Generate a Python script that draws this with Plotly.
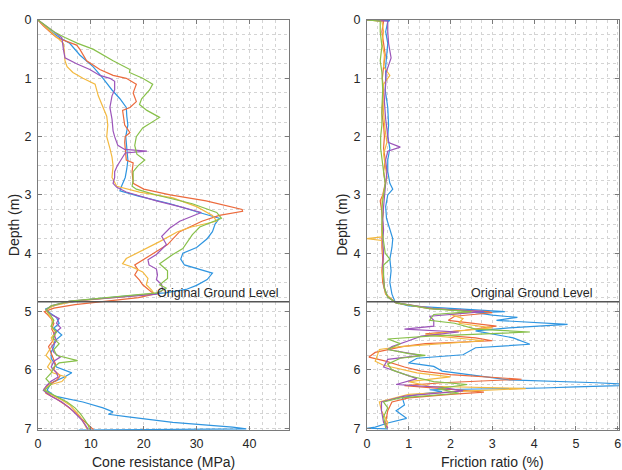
import plotly.graph_objects as go

# ---------------- data ----------------
series_names = ["CPT 1", "CPT 2", "CPT 3", "CPT 4", "CPT 5"]
series_colors = ["#2f95e0", "#ec6a3c", "#f3b940", "#9c55ba", "#88c04a"]

ground_level_depth = 4.83
ground_level_label = "Original Ground Level"

# Cone resistance (MPa) vs depth (m)
qc_depth_blue = [0, 0.1, 0.2, 0.31, 0.4, 0.6, 0.8, 1.0, 1.2, 1.35, 1.5, 1.65, 1.8, 2.0, 2.2, 2.4, 2.55, 2.7, 2.85, 2.93,
                 3.02, 3.15, 3.3, 3.4, 3.5, 3.63, 3.75, 3.9, 4.0, 4.1, 4.2, 4.28, 4.34, 4.45, 4.55, 4.62, 4.68, 4.74,
                 4.8, 4.87, 4.95, 5.02, 5.1, 5.2, 5.28, 5.4, 5.5, 5.6, 5.7, 5.8, 5.88, 5.95, 6.05, 6.12, 6.2, 6.27,
                 6.35, 6.45, 6.55, 6.65, 6.72, 6.76, 6.8, 6.9, 6.98, 7.01, 7.03]
qc_blue = [0, 1.2, 2.5, 4.2, 6.0, 7.9, 10.4, 12.3, 14.0, 15.5, 16.7, 16.8, 17.0, 16.6, 16.8, 17.0, 16.8, 16.5, 15.8, 15.5,
           19.0, 25.0, 30.5, 34.3, 33.5, 33.0, 32.0, 30.0, 27.4, 27.0, 27.7, 30.5, 33.0, 32.0, 30.0, 28.0, 24.0, 16.0,
           9.0, 4.0, 1.5, 2.2, 3.5, 4.0, 3.0, 4.5, 3.2, 3.0, 2.5, 2.5, 3.0, 3.5, 6.4, 5.0, 3.0, 2.2,
           1.7, 3.2, 8.5, 12.3, 14.2, 13.3, 16.7, 25.5, 36.8, 39.4, 7.7]

qc_depth_orange = [0, 0.1, 0.2, 0.3, 0.43, 0.5, 0.7, 0.85, 0.95, 1.0, 1.1, 1.25, 1.4, 1.5, 1.55, 1.7, 1.8, 1.93, 2.0,
                   2.1, 2.25, 2.4, 2.45, 2.6, 2.8, 2.9, 3.0, 3.1, 3.25, 3.28, 3.35, 3.45, 3.63, 3.75, 3.85, 3.97,
                   4.08, 4.15, 4.2, 4.28, 4.37, 4.46, 4.54, 4.63, 4.7, 4.76, 4.82, 4.88, 4.94, 5.0, 5.05, 5.12, 5.2,
                   5.3, 5.4, 5.5, 5.6, 5.7, 5.8, 5.9, 6.0, 6.1, 6.18, 6.25, 6.33, 6.4, 6.5, 6.6, 6.7, 6.8, 6.9,
                   7.0, 7.02]
qc_orange = [0, 1.0, 2.2, 3.5, 7.3, 7.9, 9.2, 11.7, 14.2, 16.7, 18.6, 18.0, 18.6, 17.4, 16.0, 16.2, 16.4, 17.4, 16.5,
             16.4, 16.6, 16.7, 18.0, 17.8, 18.0, 20.0, 25.0, 31.8, 38.6, 38.7, 34.3, 31.0, 26.8, 25.5, 24.5, 22.4,
             20.5, 19.2, 18.3, 18.9, 18.3, 19.2, 19.8, 21.0, 22.0, 19.0, 13.0, 7.0, 3.0, 1.2, 1.8, 2.5, 3.0,
             2.6, 3.2, 2.8, 2.0, 2.4, 2.8, 3.3, 3.0, 4.2, 3.5, 2.0, 1.2, 1.5, 3.5, 5.2, 6.6, 7.8, 8.8,
             10.2, 10.5]

qc_depth_yellow = [0, 0.1, 0.2, 0.3, 0.4, 0.55, 0.7, 0.8, 0.9, 1.0, 1.1, 1.3, 1.5, 1.65, 1.8, 2.0, 2.2, 2.35, 2.5, 2.7,
                   2.85, 2.95, 3.05, 3.2, 3.35, 3.45, 3.55, 3.63, 3.8, 3.97, 4.09, 4.18, 4.23, 4.32, 4.43, 4.54,
                   4.63, 4.7, 4.76, 4.82, 4.9, 4.97, 5.05, 5.15, 5.25, 5.35, 5.45, 5.55, 5.65, 5.75, 5.85, 5.95,
                   6.05, 6.12, 6.2, 6.25, 6.32, 6.4, 6.5, 6.6, 6.7, 6.8, 6.9, 7.0, 7.02]
qc_yellow = [0, 1.2, 2.5, 3.5, 4.8, 5.0, 5.1, 5.5, 6.6, 8.5, 10.8, 11.4, 12.3, 13.0, 13.2, 13.0, 13.6, 14.0, 14.2, 14.0,
             14.9, 19.2, 25.5, 30.0, 33.0, 33.8, 29.0, 26.4, 23.0, 19.2, 16.7, 16.0, 17.7, 19.8, 20.8, 20.5,
             21.5, 22.0, 15.0, 7.0, 3.0, 1.5, 2.0, 2.8, 2.5, 3.3, 2.5, 3.0, 2.2, 1.5, 2.5, 1.8,
             2.8, 5.3, 4.5, 2.5, 1.2, 2.0, 4.2, 6.0, 7.0, 8.0, 8.6, 9.2, 9.5]

qc_depth_purple = [0, 0.1, 0.2, 0.3, 0.5, 0.65, 0.75, 0.85, 0.95, 1.0, 1.05, 1.2, 1.3, 1.5, 1.7, 1.9, 2.0, 2.15, 2.22,
                   2.25, 2.28, 2.35, 2.5, 2.6, 2.7, 2.8, 2.87, 2.95, 3.1, 3.2, 3.3, 3.45, 3.57, 3.71, 3.85, 4.02,
                   4.11, 4.2, 4.27, 4.37, 4.45, 4.54, 4.63, 4.7, 4.76, 4.82, 4.9, 4.97, 5.05, 5.12, 5.2, 5.28, 5.38,
                   5.5, 5.6, 5.7, 5.78, 5.85, 5.95, 6.05, 6.12, 6.2, 6.28, 6.35, 6.45, 6.55, 6.65, 6.75, 6.85,
                   6.95, 7.02]
qc_purple = [0, 1.5, 3.0, 4.5, 4.8, 5.1, 7.3, 9.8, 11.7, 13.6, 14.5, 14.5, 14.0, 13.6, 14.0, 14.2, 14.5, 15.1, 16.4,
             20.6, 16.5, 16.0, 15.0, 14.5, 14.5, 14.2, 14.9, 16.7, 22.4, 26.8, 30.9, 26.8, 24.9, 23.4, 24.3, 22.4,
             20.8, 21.0, 22.4, 22.6, 22.4, 23.4, 23.6, 22.5, 14.0, 6.0, 2.5, 1.5, 2.5, 4.0, 3.5, 4.3, 3.0,
             3.5, 2.6, 3.0, 4.2, 3.0, 2.5, 3.5, 3.8, 2.4, 1.5, 1.0, 2.5, 4.5, 6.0, 7.2, 8.2,
             9.0, 9.5]

qc_depth_green = [0, 0.1, 0.2, 0.3, 0.4, 0.5, 0.7, 0.85, 0.9, 1.0, 1.1, 1.2, 1.35, 1.45, 1.55, 1.67, 1.75, 1.85, 2.0,
                  2.15, 2.3, 2.4, 2.5, 2.6, 2.75, 2.85, 2.9, 3.0, 3.15, 3.3, 3.4, 3.55, 3.68, 3.8, 3.92, 4.02, 4.18,
                  4.3, 4.43, 4.54, 4.6, 4.68, 4.75, 4.82, 4.9, 4.97, 5.05, 5.15, 5.25, 5.35, 5.45, 5.55, 5.65,
                  5.75, 5.84, 5.88, 5.95, 6.05, 6.15, 6.25, 6.35, 6.45, 6.55, 6.65, 6.75, 6.85, 6.95, 7.02]
qc_green = [0, 1.5, 3.0, 5.1, 7.5, 10.4, 14.2, 17.4, 17.3, 19.8, 21.7, 21.1, 19.6, 19.2, 20.6, 23.0, 21.5, 19.8, 18.6,
            18.3, 18.7, 20.2, 18.9, 18.0, 18.0, 17.8, 18.6, 22.4, 29.2, 33.8, 34.7, 30.6, 29.2, 28.3, 27.4, 25.5, 23.0,
            24.5, 24.5, 23.0, 24.3, 22.5, 14.0, 6.0, 2.5, 1.5, 2.3, 3.0, 2.5, 3.5, 2.8, 4.0, 3.0,
            3.5, 7.5, 4.0, 3.0, 2.5, 1.5, 2.5, 1.2, 3.5, 5.5, 7.0, 8.0, 8.8, 9.5, 9.8]

# Friction ratio (%) vs depth (m)
fr_depth_blue = [0, 0.01, 0.03, 0.2, 0.4, 0.6, 0.8, 1.0, 1.2, 1.5, 1.8, 2.0, 2.2, 2.4, 2.6, 2.8, 2.9, 3.0, 3.2, 3.4, 3.6,
                 3.75, 3.9, 4.1, 4.3, 4.5, 4.7, 4.84, 4.9, 4.95, 5.0, 5.02, 5.06, 5.1, 5.15, 5.22, 5.28, 5.33, 5.45,
                 5.56, 5.62, 5.74, 5.8, 5.88, 5.94, 6.02, 6.08, 6.17, 6.22, 6.26, 6.29, 6.31, 6.34, 6.37, 6.42,
                 6.48, 6.6, 6.7, 6.83, 6.91, 6.98, 7.0, 7.01]
fr_blue = [0, 0.55, 0.5, 0.45, 0.5, 0.48, 0.45, 0.45, 0.44, 0.5, 0.52, 0.5, 0.55, 0.5, 0.5, 0.55, 0.62, 0.5, 0.45, 0.47, 0.55,
           0.62, 0.6, 0.55, 0.58, 0.55, 0.6, 0.68, 1.0, 2.2, 3.3, 2.6, 3.0, 3.6, 3.1, 4.8, 3.4, 2.6, 3.5,
           3.9, 2.6, 2.3, 1.2, 1.0, 1.6, 1.8, 2.4, 3.4, 5.5, 6.6, 5.0, 4.2, 1.5, 1.8, 1.2,
           0.85, 0.9, 0.7, 0.95, 0.5, 0.2, 0.0, 0.5]

fr_depth_orange = [0, 0.02, 0.2, 0.4, 0.6, 0.8, 1.0, 1.2, 1.4, 1.6, 1.8, 2.0, 2.2, 2.4, 2.6, 2.8, 3.0, 3.1, 3.3, 3.5, 3.7,
                   3.9, 4.1, 4.3, 4.5, 4.7, 4.85, 4.95, 5.0, 5.02, 5.08, 5.15, 5.25, 5.32, 5.38, 5.45, 5.5, 5.55,
                   5.6, 5.7, 5.78, 5.85, 5.95, 6.02, 6.08, 6.12, 6.16, 6.22, 6.27, 6.32, 6.38, 6.42, 6.48, 6.55,
                   6.7, 6.9, 7.0]
fr_orange = [0, 0.4, 0.36, 0.4, 0.44, 0.4, 0.37, 0.4, 0.38, 0.36, 0.4, 0.42, 0.4, 0.44, 0.4, 0.44, 0.38, 0.32, 0.36, 0.38, 0.36,
             0.36, 0.38, 0.36, 0.38, 0.45, 0.7, 1.5, 2.9, 3.0, 2.1, 1.95, 3.1, 2.35, 1.4, 2.6, 3.0, 1.4,
             0.85, 0.2, 0.05, 0.45, 0.9, 1.3, 2.0, 3.0, 3.7, 1.8, 0.9, 1.8, 2.8, 2.0, 1.0, 0.6,
             0.5, 0.45, 0.5]

fr_depth_yellow = [0, 0.02, 0.2, 0.4, 0.6, 0.8, 0.95, 1.1, 1.3, 1.6, 1.9, 2.1, 2.3, 2.5, 2.7, 2.9, 3.1, 3.3, 3.5, 3.72,
                   3.75, 3.78, 3.9, 4.1, 4.3, 4.5, 4.7, 4.85, 4.95, 5.0, 5.05, 5.12, 5.2, 5.28, 5.33, 5.4, 5.5, 5.6,
                   5.65, 5.75, 5.85, 5.92, 6.05, 6.12, 6.2, 6.28, 6.32, 6.36, 6.42, 6.55, 6.7, 6.9, 7.0]
fr_yellow = [0, 0.36, 0.4, 0.36, 0.42, 0.4, 0.55, 0.4, 0.38, 0.4, 0.44, 0.48, 0.4, 0.44, 0.48, 0.42, 0.36, 0.4, 0.36, 0.36,
             0.0, 0.36, 0.38, 0.4, 0.36, 0.4, 0.45, 0.7, 1.6, 2.6, 2.0, 2.3, 2.2, 3.0, 2.2, 1.4, 2.8, 0.8,
             0.3, 0.25, 0.2, 0.4, 1.2, 2.0, 1.0, 1.5, 3.8, 2.5, 1.0, 0.3, 0.35, 0.5, 0.45]

fr_depth_purple = [0, 0.02, 0.2, 0.4, 0.65, 0.9, 1.1, 1.4, 1.7, 1.95, 2.1, 2.18, 2.25, 2.4, 2.6, 2.8, 3.0, 3.2, 3.4, 3.6,
                   3.8, 4.0, 4.2, 4.4, 4.6, 4.75, 4.85, 4.95, 5.0, 5.08, 5.15, 5.25, 5.3, 5.35, 5.42, 5.5, 5.6, 5.65,
                   5.75, 5.82, 5.95, 6.05, 6.15, 6.25, 6.3, 6.36, 6.45, 6.55, 6.7, 6.9, 7.0]
fr_purple = [0, 0.5, 0.5, 0.52, 0.58, 0.46, 0.45, 0.42, 0.45, 0.5, 0.52, 0.8, 0.5, 0.45, 0.48, 0.45, 0.42, 0.4, 0.38, 0.4,
             0.38, 0.4, 0.38, 0.4, 0.42, 0.5, 0.7, 1.6, 2.8, 1.5, 1.6, 1.6, 0.9, 2.2, 1.3, 1.0, 0.6, 0.5,
             1.3, 0.5, 0.4, 0.8, 1.2, 0.7, 1.8, 2.3, 0.9, 0.35, 0.35, 0.4, 0.5]

fr_depth_green = [0, 0.02, 0.2, 0.45, 0.7, 0.9, 1.2, 1.5, 1.8, 2.0, 2.2, 2.4, 2.6, 2.8, 3.0, 3.2, 3.4, 3.6, 3.8, 4.0, 4.1,
                  4.2, 4.4, 4.6, 4.75, 4.85, 4.95, 5.0, 5.05, 5.15, 5.2, 5.3, 5.35, 5.42, 5.47, 5.55, 5.65, 5.72,
                  5.75, 5.8, 5.9, 6.0, 6.1, 6.2, 6.25, 6.32, 6.4, 6.48, 6.55, 6.65, 6.8, 7.0]
fr_green = [0, 0.32, 0.32, 0.36, 0.32, 0.36, 0.38, 0.36, 0.36, 0.33, 0.33, 0.36, 0.4, 0.44, 0.4, 0.36, 0.36, 0.36, 0.4, 0.44, 0.55,
            0.4, 0.4, 0.42, 0.5, 0.7, 1.5, 2.5, 1.6, 1.5, 2.1, 2.6, 3.9, 1.5, 0.5, 0.8, 0.5, 1.0,
            1.4, 0.8, 0.5, 0.6, 1.0, 1.6, 2.4, 1.7, 2.2, 0.8, 0.4, 0.5, 0.4, 0.45]

qc_depths = [qc_depth_blue, qc_depth_orange, qc_depth_yellow, qc_depth_purple, qc_depth_green]
qc_values = [qc_blue, qc_orange, qc_yellow, qc_purple, qc_green]
fr_depths = [fr_depth_blue, fr_depth_orange, fr_depth_yellow, fr_depth_purple, fr_depth_green]
fr_values = [fr_blue, fr_orange, fr_yellow, fr_purple, fr_green]

depth_ticks = [0, 1, 2, 3, 4, 5, 6, 7]
qc_ticks = [0, 10, 20, 30, 40]
fr_ticks = [0, 1, 2, 3, 4, 5, 6]

# ---------------- figure ----------------
fig = go.Figure()
for name, col, d, v in zip(series_names, series_colors, qc_depths, qc_values):
    fig.add_trace(go.Scatter(x=v, y=d, mode="lines", name=name, line=dict(color=col, width=1.2),
                             xaxis="x", yaxis="y", showlegend=False))
for name, col, d, v in zip(series_names, series_colors, fr_depths, fr_values):
    fig.add_trace(go.Scatter(x=v, y=d, mode="lines", name=name, line=dict(color=col, width=1.2),
                             xaxis="x2", yaxis="y2", showlegend=False))

font_family = "Liberation Sans, Arial, sans-serif"
axis_col = "#7a7a7a"
grid_col = "#d4d4d4"
txt_col = "#262626"

def xax(domain, rng, ticks, minor, anchor):
    return dict(domain=domain, range=rng, tickvals=ticks, anchor=anchor,
                showline=True, linecolor=axis_col, linewidth=1, mirror="ticks",
                ticks="inside", ticklen=4, tickcolor=axis_col,
                showgrid=True, gridcolor=grid_col, griddash="dot", gridwidth=1,
                minor=dict(dtick=minor, showgrid=True, gridcolor=grid_col, griddash="dot", gridwidth=1),
                zeroline=False, tickfont=dict(size=12.5, color=txt_col), ticklabelstandoff=2,
                ticklabeloverflow="allow")

def yax(anchor):
    return dict(domain=[0, 1], range=[7.03, 0], tickvals=depth_ticks, anchor=anchor,
                showline=True, linecolor=axis_col, linewidth=1, mirror="ticks",
                ticks="inside", ticklen=4, tickcolor=axis_col,
                showgrid=True, gridcolor=grid_col, griddash="dot", gridwidth=1,
                minor=dict(dtick=0.25, showgrid=True, gridcolor=grid_col, griddash="dot", gridwidth=1),
                zeroline=False, tickfont=dict(size=12.5, color=txt_col), ticklabelstandoff=3,
                ticklabeloverflow="allow")

fig.update_layout(
    width=622, height=470,
    margin=dict(l=38, r=1, t=20, b=40),
    paper_bgcolor="white", plot_bgcolor="white",
    font=dict(family=font_family, color=txt_col),
    xaxis=xax([0, 0.4322], [0, 47.5], qc_ticks, 2.5, "y"),
    xaxis2=xax([0.566, 1], [0, 6.03], fr_ticks, 0.25, "y2"),
    yaxis=yax("x"),
    yaxis2=yax("x2"),
)

# ground level lines
for xr, yr in [("x domain", "y"), ("x2 domain", "y2")]:
    fig.add_shape(type="line", xref=xr, yref=yr, x0=0, x1=1, y0=ground_level_depth, y1=ground_level_depth,
                  line=dict(color="#555555", width=1.5))

fig.add_annotation(x=34.0, y=ground_level_depth, xref="x", yref="y", text=ground_level_label, showarrow=False,
                   xanchor="center", yanchor="bottom", font=dict(size=12.5, color=txt_col))
fig.add_annotation(x=3.95, y=ground_level_depth, xref="x2", yref="y2", text=ground_level_label, showarrow=False,
                   xanchor="center", yanchor="bottom", font=dict(size=12.5, color=txt_col))

# axis titles
fig.add_annotation(x=-0.041, y=0.5, xref="paper", yref="paper", text="Depth (m)", textangle=-90,
                   xanchor="center", yanchor="middle", showarrow=False, font=dict(size=14, color=txt_col))
fig.add_annotation(x=0.523, y=0.5, xref="paper", yref="paper", text="Depth (m)", textangle=-90,
                   xanchor="center", yanchor="middle", showarrow=False, font=dict(size=14, color=txt_col))
fig.add_annotation(x=0.2161, y=-0.078, xref="paper", yref="paper", text="Cone resistance (MPa)",
                   xanchor="center", yanchor="middle", showarrow=False, font=dict(size=14, color=txt_col))
fig.add_annotation(x=0.783, y=-0.078, xref="paper", yref="paper", text="Friction ratio (%)",
                   xanchor="center", yanchor="middle", showarrow=False, font=dict(size=14, color=txt_col))

fig.write_html("out.html", config={"displayModeBar": False},
               post_script="document.body.style.margin='0px'; document.body.style.overflow='hidden';")
